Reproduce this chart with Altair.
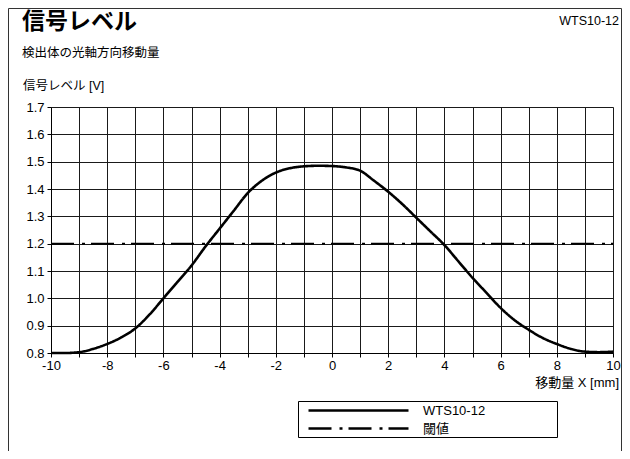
import altair as alt
import pandas as pd

# ---- data ----
pos_x = [-10, -9.5, -9, -8.5, -8, -7.5, -7, -6.5, -6, -5.5, -5, -4.5, -4, -3.5, -3, -2.5,
         -2, -1.5, -1, -0.5, 0, 0.5, 1, 1.5, 2, 2.5, 3, 3.5, 4, 4.5, 5, 5.5, 6, 6.5, 7,
         7.5, 8, 8.5, 9, 9.5, 10]
signal = [0.800, 0.800, 0.803, 0.815, 0.833, 0.857, 0.890, 0.940, 1.000, 1.060, 1.120,
          1.190, 1.255, 1.320, 1.385, 1.430, 1.460, 1.476, 1.483, 1.485, 1.484, 1.479,
          1.467, 1.430, 1.390, 1.345, 1.295, 1.245, 1.195, 1.135, 1.075, 1.020, 0.965,
          0.920, 0.885, 0.855, 0.833, 0.815, 0.805, 0.803, 0.805]
thr_x = [-10, 10]
thr_y = [1.2, 1.2]
series_names = ["WTS10-12", "閾値"]
x_ticks = list(range(-10, 11))
y_ticks = [0.8, 0.9, 1.0, 1.1, 1.2, 1.3, 1.4, 1.5, 1.6, 1.7]

title_text = "信号レベル"
subtitle_text = "検出体の光軸方向移動量"
model_text = "WTS10-12"
y_title = "信号レベル [V]"
x_title = "移動量 X [mm]"

FONT = "Liberation Sans, Noto Sans CJK JP, sans-serif"

W, H = 562, 246

curve_df = pd.DataFrame({"x": pos_x, "y": signal, "s": series_names[0]})
thr_df = pd.DataFrame({"x": thr_x, "y": thr_y, "s": series_names[1]})

xs = alt.X("x:Q", scale=alt.Scale(domain=[-10, 10], nice=False, zero=False),
           axis=alt.Axis(values=x_ticks, grid=True, title=None,
                         labelExpr="datum.value % 2 == 0 ? '' + datum.value : ''",
                         labelPadding=2, labelFontSize=13, labelFont=FONT,
                         labelColor="black", tickSize=4, tickColor="black",
                         domainColor="black", gridColor="#1a1a1a", gridOpacity=1,
                         labelFlush=False, labelOverlap=False))
ys = alt.Y("y:Q", scale=alt.Scale(domain=[0.8, 1.7], nice=False, zero=False),
           axis=alt.Axis(values=y_ticks, grid=True, title=None,
                         labelExpr="format(datum.value, '.1f')",
                         labelPadding=3, labelFontSize=13, labelFont=FONT,
                         labelColor="black", tickSize=4, tickColor="black",
                         domainColor="black", gridColor="#1a1a1a", gridOpacity=1,
                         labelOverlap=False))

dash = alt.StrokeDash("s:N",
                      scale=alt.Scale(domain=series_names, range=[[1, 0], [23, 8, 3, 6]]),
                      legend=alt.Legend(title=None, orient="none", legendX=256, legendY=297,
                                        symbolType="stroke", symbolSize=10000,
                                        symbolStrokeWidth=2.3, symbolStrokeColor="black",
                                        clipHeight=13, rowPadding=4, padding=0,
                                        labelOffset=13, labelFontSize=13, labelFont=FONT,
                                        labelColor="black"))

curve = alt.Chart(curve_df).mark_line(color="black", strokeWidth=2.6,
                                      interpolate="monotone").encode(x=xs, y=ys, strokeDash=dash)
thr = alt.Chart(thr_df).mark_line(color="black", strokeWidth=2).encode(x=xs, y=ys, strokeDash=dash)

one = pd.DataFrame({"k": [0]})

def txt(t, x, y, size, align="left", weight="normal"):
    return alt.Chart(one).mark_text(text=t, align=align, baseline="middle", fontSize=size,
                                    font=FONT, fontWeight=weight, color="black").encode(
        x=alt.value(x), y=alt.value(y))

def box(x1, x2, y1, y2, color):
    return alt.Chart(one).mark_rect(fillOpacity=0, stroke=color, strokeWidth=1).encode(
        x=alt.value(x1), x2=alt.value(x2), y=alt.value(y1), y2=alt.value(y2))

frame = box(-42.5, 570.5, -98.5, 420, "#333")
legend_box = box(247.5, 506.5, 294.5, 330.5, "black")

chart = alt.layer(
    frame, legend_box, thr, curve,
    txt(title_text, -29, -85, 23, weight="bold"),
    txt(subtitle_text, -29, -54, 12.5),
    txt(model_text, 568, -86, 12.5, align="right"),
    txt(y_title, -28, -21, 12.5),
    txt(x_title, 568, 30 + H, 13, align="right"),
).properties(
    width=W, height=H,
    autosize=alt.AutoSizeParams(type="none"),
    padding={"left": 43, "top": 99, "right": 9, "bottom": 98},
).configure_view(stroke=None).configure(background="white")

chart.save("out.html", embed_options={"renderer": "svg", "actions": False})
